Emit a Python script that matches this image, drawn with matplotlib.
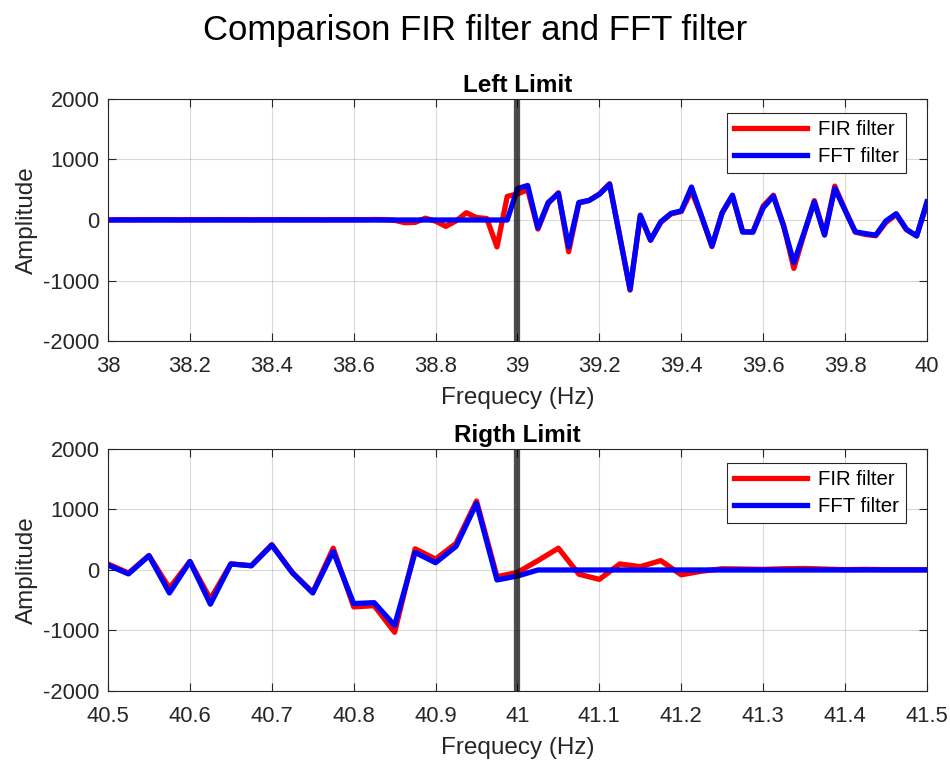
import numpy as np
import matplotlib
matplotlib.use('Agg')
import matplotlib.pyplot as plt

plt.rcParams['font.family'] = ['Liberation Sans', 'DejaVu Sans']

# Left limit window (38 - 40 Hz, step 0.025 Hz)
freq_left = np.linspace(38, 40, 81)
fir_left = [0, 5, 3, 5, 4, 6, 5, 3, 5, 4, 5, 6, 4, 5, 3, 5, 4, 6, 5, 4,
            5, 3, 5, 4, 6, 5, 8, 5, -5, -45, -40, 30, -20, -105, -15, 120, 40, 25, -445, 390,
            430, 500, -150, 270, 450, -525, 280, 320, 430, 600, -270, -1160, 70, -330, -40, 100,
            140, 480, 50, -440, 120, 400, -190, -200, 230, 410, -90, -800, -230, 320,
            -240, 560, 170, -200, -240, -260, -40, 90, -160, -260, 260]
fft_left = [0] * 40 + [520, 570, -130, 290, 440, -445, 290, 325, 425, 590, -280, -1145, 80,
                       -335, -30, 110, 150, 545, 55, -430, 120, 410, -200, -200, 200, 395, -100,
                       -705, -210, 300, -250, 520, 160, -195, -225, -250, -15, 105, -155, -265, 300]

# Right limit window (40.5 - 41.5 Hz)
freq_right = np.linspace(40.5, 41.5, 41)
fir_right = [100, -50, 240, -300, 140, -480, 100, 70, 420, -40, -370, 360, -610, -590, -1030,
             350, 180, 440, 1140, -110, -40, 155, 360, -70, -155, 100, 55, 155, -80, -20,
             20, 15, 10, 20, 25, 15, 5, 10, 5, 5, 5]
fft_right = [80, -65, 235, -380, 140, -565, 100, 70, 410, -45, -380, 305, -555, -540, -915,
             290, 120, 390, 1100, -165, -100] + [0] * 20

ticks_left = [38, 38.2, 38.4, 38.6, 38.8, 39, 39.2, 39.4, 39.6, 39.8, 40]
ticklabels_left = ['38', '38.2', '38.4', '38.6', '38.8', '39', '39.2', '39.4', '39.6', '39.8', '40']
ticks_right = [40.5, 40.6, 40.7, 40.8, 40.9, 41, 41.1, 41.2, 41.3, 41.4, 41.5]
ticklabels_right = ['40.5', '40.6', '40.7', '40.8', '40.9', '41', '41.1', '41.2', '41.3', '41.4', '41.5']
y_ticks = [-2000, -1000, 0, 1000, 2000]

fig = plt.figure(figsize=(9.5, 7.66), dpi=100)
fig.suptitle('Comparison FIR filter and FFT filter', fontsize=25, y=0.982)

ax1 = fig.add_axes([0.1137, 0.5548, 0.862, 0.316])
ax2 = fig.add_axes([0.1137, 0.0979, 0.862, 0.316])

panels = [
    (ax1, freq_left, fir_left, fft_left, 39, ticks_left, ticklabels_left, 'Left Limit'),
    (ax2, freq_right, fir_right, fft_right, 41, ticks_right, ticklabels_right, 'Rigth Limit'),
]

for ax, f, fir, fft, limit, xt, xtl, title in panels:
    ax.plot(f, fir, color='red', linewidth=3.8, label='FIR filter')
    ax.plot(f, fft, color='blue', linewidth=3.8, label='FFT filter')
    ax.axvline(limit, color='black', alpha=0.7, linewidth=4.5)
    ax.set_xlim(xt[0], xt[-1])
    ax.set_ylim(-2000, 2000)
    ax.set_xticks(xt)
    ax.set_xticklabels(xtl)
    ax.set_yticks(y_ticks)
    ax.set_yticklabels([str(v) for v in y_ticks])
    ax.grid(True, color='black', alpha=0.15, linewidth=0.8)
    ax.tick_params(direction='in', length=5.5, width=0.8, top=True, right=True,
                   labelsize=15.8, colors='#262626')
    ax.tick_params(axis='y', pad=6)
    ax.tick_params(axis='x', pad=11)
    for sp in ax.spines.values():
        sp.set_color('#262626')
        sp.set_linewidth(0.8)
    ax.set_title(title, fontsize=17.5, fontweight='bold', pad=5)
    ax.set_xlabel('Frequecy (Hz)', fontsize=17.5, color='#262626', labelpad=7)
    ax.set_ylabel('Amplitude', fontsize=17.5, color='#262626', labelpad=4)
    leg = ax.legend(loc='upper right', bbox_to_anchor=(0.974, 0.942), borderaxespad=0,
                    fontsize=14.7, handlelength=3.6, labelspacing=0.38, fancybox=False,
                    framealpha=1, edgecolor='#262626', borderpad=0.35, handletextpad=0.5)
    leg.get_frame().set_linewidth(0.8)

plt.savefig('out.png', dpi=100)
